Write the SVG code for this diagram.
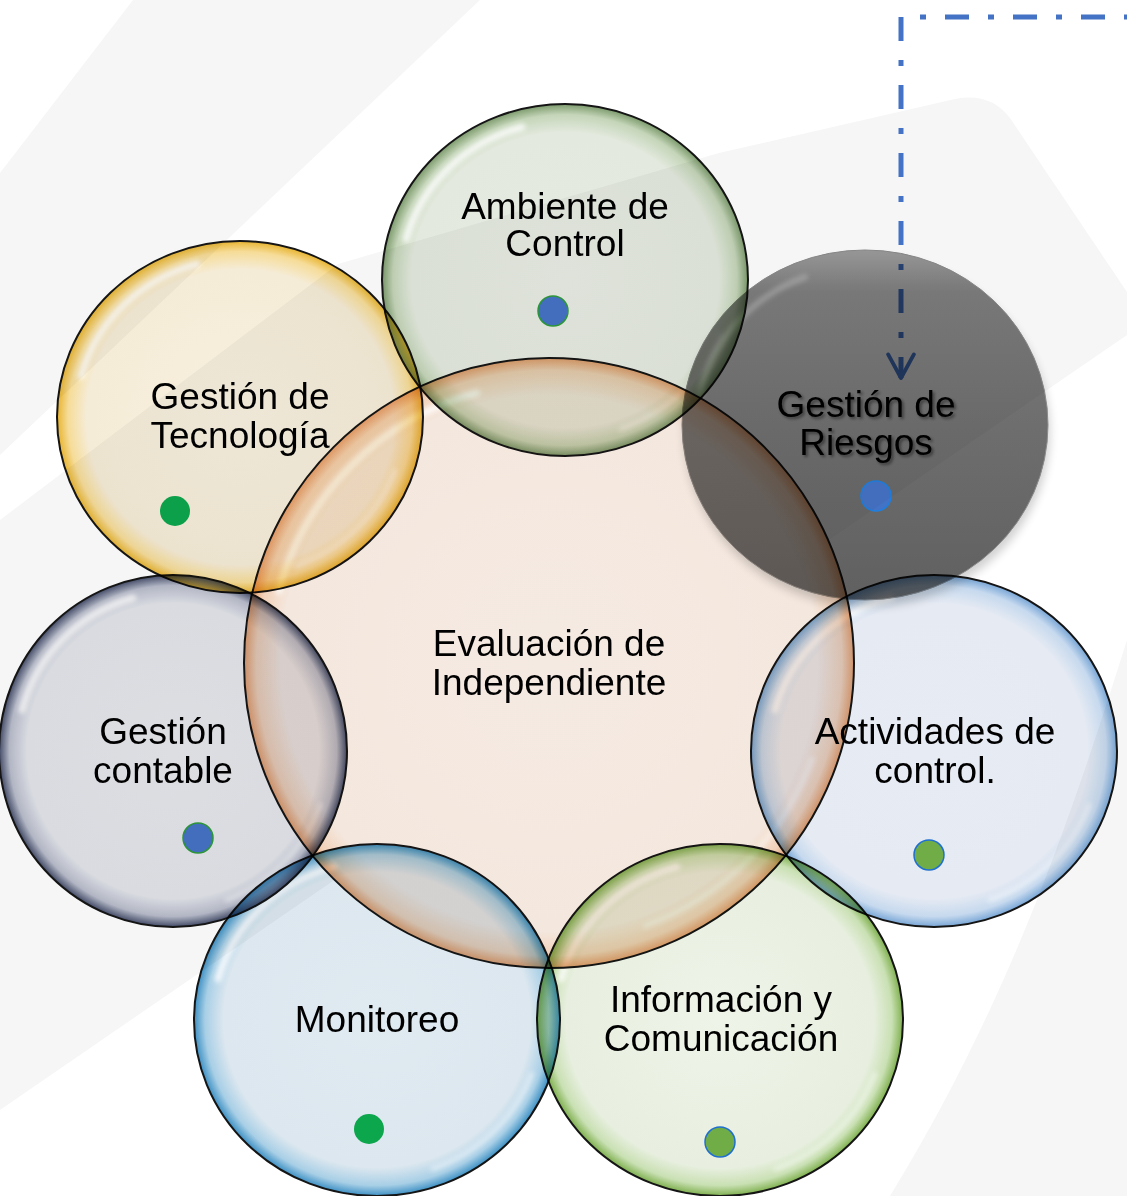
<svg xmlns="http://www.w3.org/2000/svg" width="1127" height="1196" viewBox="0 0 1127 1196">
<defs>
<style>
.bub{stroke:#151515;stroke-width:2}
.node{mix-blend-mode:multiply}
.lbl{font-family:"Liberation Sans",Arial,sans-serif;font-size:37px;fill:#000;text-anchor:middle}
.hl{fill:none;stroke:#fff;stroke-width:7;stroke-linecap:round;opacity:.8;filter:url(#blur)}
.hl2{fill:none;stroke:#fff;stroke-width:5;stroke-linecap:round;opacity:.5;filter:url(#blur)}
.bg{fill:#f6f6f6}
.conn{fill:none;stroke:#4472C4;stroke-width:5;stroke-dasharray:6 19 24 19;stroke-dashoffset:3}
</style>
<filter id="blur" x="-20%" y="-20%" width="140%" height="140%"><feGaussianBlur stdDeviation="2.5"/></filter>
<filter id="soft" x="-20%" y="-20%" width="140%" height="140%"><feGaussianBlur stdDeviation="5"/></filter>
<filter id="tsh" x="-10%" y="-10%" width="120%" height="130%"><feDropShadow dx="2" dy="2" stdDeviation="1.5" flood-color="#000" flood-opacity="0.45"/></filter>
<marker id="arr" viewBox="0 0 14 14" refX="12" refY="7" markerWidth="6" markerHeight="6" orient="auto" markerUnits="strokeWidth">
<path d="M1 1 L12 7 L1 13" fill="none" stroke="#4472C4" stroke-width="1.8" stroke-linecap="round" stroke-linejoin="round"/>
</marker>
<radialGradient id="gC" cx="0.5" cy="0.5" r="0.5">
<stop offset="0" stop-color="#f5eae2"/>
<stop offset="0.88" stop-color="#f4e7de"/>
<stop offset="0.96" stop-color="#f2d2b9"/>
<stop offset="1" stop-color="#e6a070"/>
</radialGradient>
<radialGradient id="gG" cx="0.5" cy="0.5" r="0.5">
<stop offset="0" stop-color="#e6ebe2"/>
<stop offset="0.84" stop-color="#e3e9de"/>
<stop offset="0.94" stop-color="#c4d5b8"/>
<stop offset="1" stop-color="#7c9a6c"/>
</radialGradient>
<radialGradient id="gY" cx="0.5" cy="0.5" r="0.5">
<stop offset="0" stop-color="#f7f0df"/>
<stop offset="0.84" stop-color="#f5ecd7"/>
<stop offset="0.94" stop-color="#f6dc98"/>
<stop offset="1" stop-color="#e8b430"/>
</radialGradient>
<radialGradient id="gN" cx="0.5" cy="0.5" r="0.5">
<stop offset="0" stop-color="#e5e6eb"/>
<stop offset="0.84" stop-color="#e1e3e9"/>
<stop offset="0.94" stop-color="#b9bdcc"/>
<stop offset="1" stop-color="#444d6a"/>
</radialGradient>
<radialGradient id="gB" cx="0.5" cy="0.5" r="0.5">
<stop offset="0" stop-color="#e0eaf1"/>
<stop offset="0.84" stop-color="#dce7ef"/>
<stop offset="0.94" stop-color="#a8cfe6"/>
<stop offset="1" stop-color="#3d90c4"/>
</radialGradient>
<radialGradient id="gL" cx="0.5" cy="0.5" r="0.5">
<stop offset="0" stop-color="#eef4e8"/>
<stop offset="0.84" stop-color="#e8efe0"/>
<stop offset="0.94" stop-color="#c9e0b3"/>
<stop offset="1" stop-color="#7fb04f"/>
</radialGradient>
<radialGradient id="gA" cx="0.5" cy="0.5" r="0.5">
<stop offset="0" stop-color="#e7ebf4"/>
<stop offset="0.84" stop-color="#e5eaf3"/>
<stop offset="0.94" stop-color="#c6d9ee"/>
<stop offset="1" stop-color="#78a6d6"/>
</radialGradient>
<linearGradient id="gR" x1="0" y1="0" x2="0" y2="1">
<stop offset="0" stop-color="#9c9c9c"/>
<stop offset="0.12" stop-color="#7c7c7c"/>
<stop offset="0.5" stop-color="#6e6e6e"/>
<stop offset="1" stop-color="#606060"/>
</linearGradient>
</defs>

<g id="background">
<rect width="1127" height="1196" fill="#fff"/>
<path class="bg" d="M133 0 L480 0 L0 455 L0 173 Z"/>
<path class="bg" d="M0 520 L338 264 L719 153 L955 99 Q990 92 1010 118 L1127 292 L1127 335 L0 1110 Z"/>
<path class="bg" d="M1127 640 C1070 820 1010 1000 890 1196 L1127 1196 Z"/>
</g>

<g id="n-evaluacion" transform="translate(549 663)">
<circle r="305" fill="url(#gC)" class="bub"/>
<path class="hl" d="M-270 -72 A280 280 0 0 1 -72 -270"/>
<path class="hl2" d="M263 96 A280 280 0 0 1 96 263"/>
<text class="lbl" x="0" y="-7">Evaluación de</text>
<text class="lbl" x="0" y="32">Independiente</text>
</g>

<g id="n-ambiente" class="node" transform="translate(565 280)">
<ellipse rx="183" ry="176" fill="url(#gG)" class="bub"/>
<path class="hl" d="M-159 -41 A165 158 0 0 1 -43 -153"/>
<path class="hl2" d="M155 54 A165 158 0 0 1 56 149"/>
<text class="lbl" x="0" y="-61">Ambiente de</text>
<text class="lbl" x="0" y="-24">Control</text>
<circle cx="-12" cy="31" r="15" fill="#4472C4" stroke="#2e9a3a" stroke-width="1.5"/>
</g>

<g id="n-tecnologia" class="node" transform="translate(240 417)">
<ellipse rx="183" ry="176" fill="url(#gY)" class="bub"/>
<path class="hl" d="M-159 -41 A165 158 0 0 1 -43 -153"/>
<path class="hl2" d="M155 54 A165 158 0 0 1 56 149"/>
<text class="lbl" x="0" y="-8">Gestión de</text>
<text class="lbl" x="0" y="31">Tecnología</text>
<circle cx="-65" cy="94" r="15" fill="#0ca64c"/>
</g>

<g id="n-contable" class="node" transform="translate(173 751)">
<ellipse rx="174" ry="176" fill="url(#gN)" class="bub"/>
<path class="hl" d="M-151 -41 A157 158 0 0 1 -40 -153"/>
<path class="hl2" d="M147 54 A157 158 0 0 1 54 149"/>
<text class="lbl" x="-10" y="-7">Gestión</text>
<text class="lbl" x="-10" y="32">contable</text>
<circle cx="25" cy="87" r="15" fill="#4472C4" stroke="#2e9a3a" stroke-width="1.5"/>
</g>

<g id="connectors">
<path class="conn" d="M1127 17 H901 V378" marker-end="url(#arr)"/>
</g>

<g id="n-riesgos" class="node" transform="translate(865 425)">
<ellipse cx="2" cy="7" rx="183" ry="175" fill="#000" opacity="0.18" filter="url(#soft)"/>
<ellipse rx="183" ry="175" fill="url(#gR)" stroke="#8a8a8a" stroke-width="1"/>
<path d="M-165 -30 A168 160 0 0 1 -60 -148" fill="none" stroke="#c8c8c8" stroke-width="6" stroke-linecap="round" opacity="0.45" filter="url(#blur)"/>
<text class="lbl" x="1" y="-8" fill="#111" filter="url(#tsh)">Gestión de</text>
<text class="lbl" x="1" y="30" filter="url(#tsh)">Riesgos</text>
<circle cx="11" cy="71" r="15" fill="#4472C4" stroke="#1f7fe0" stroke-width="1.5"/>
</g>

<g id="n-actividades" class="node" transform="translate(934 751)">
<ellipse rx="183" ry="176" fill="url(#gA)" class="bub"/>
<path class="hl" d="M-159 -41 A165 158 0 0 1 -43 -153"/>
<path class="hl2" d="M155 54 A165 158 0 0 1 56 149"/>
<text class="lbl" x="1" y="-7">Actividades de</text>
<text class="lbl" x="1" y="32">control.</text>
<circle cx="-5" cy="104" r="15" fill="#70AD47" stroke="#1f6fd0" stroke-width="1.5"/>
</g>

<g id="n-monitoreo" class="node" transform="translate(377 1020)">
<ellipse rx="183" ry="176" fill="url(#gB)" class="bub"/>
<path class="hl" d="M-159 -41 A165 158 0 0 1 -43 -153"/>
<path class="hl2" d="M155 54 A165 158 0 0 1 56 149"/>
<text class="lbl" x="0" y="12">Monitoreo</text>
<circle cx="-8" cy="109" r="15" fill="#0ca64c"/>
</g>

<g id="n-informacion" class="node" transform="translate(720 1020)">
<ellipse rx="183" ry="176" fill="url(#gL)" class="bub"/>
<path class="hl" d="M-159 -41 A165 158 0 0 1 -43 -153"/>
<path class="hl2" d="M155 54 A165 158 0 0 1 56 149"/>
<text class="lbl" x="1" y="-8">Información y</text>
<text class="lbl" x="1" y="31">Comunicación</text>
<circle cx="0" cy="122" r="15" fill="#70AD47" stroke="#1f6fd0" stroke-width="1.5"/>
</g>
</svg>
